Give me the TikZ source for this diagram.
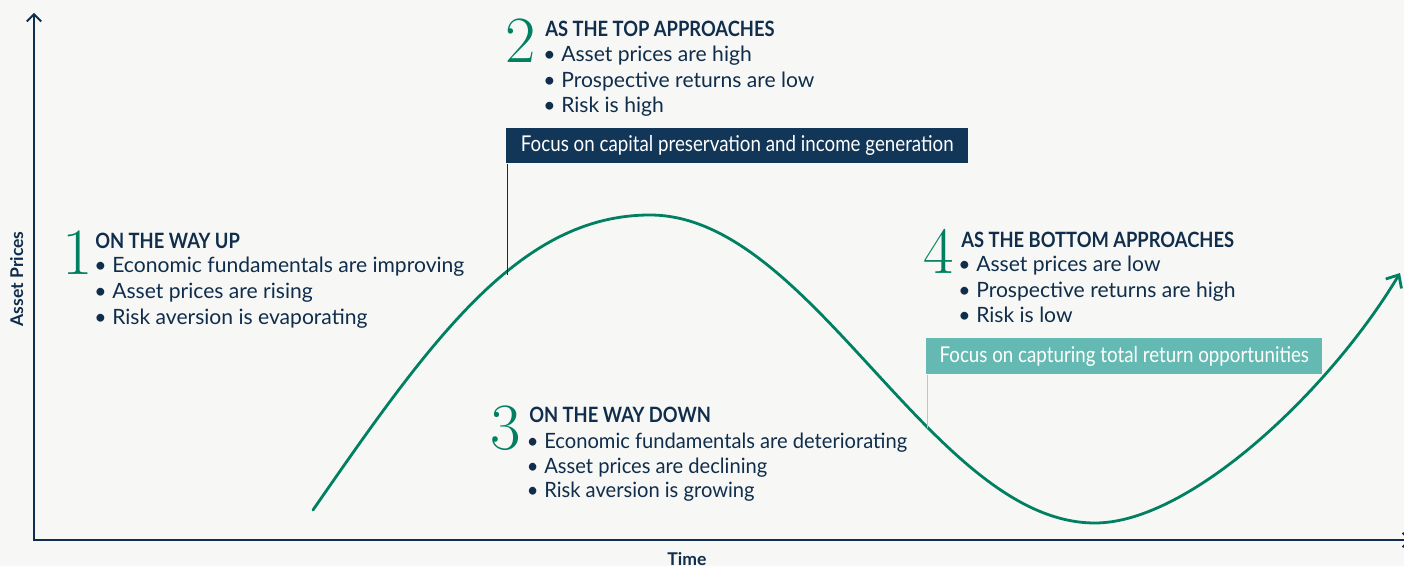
\documentclass[tikz,border=0pt]{standalone}
\usepackage{fontspec}
\setsansfont{Lato}
\renewcommand{\familydefault}{\sfdefault}
\newfontfamily\condfont[FakeStretch=0.86]{Lato}
\newfontfamily\headfont[FakeStretch=0.87]{Lato}
\newfontfamily\narrowfont[FakeStretch=0.955]{Lato}
\usetikzlibrary{arrows.meta}

\definecolor{bgpaper}{RGB}{247,247,245}
\definecolor{inknavy}{RGB}{16,46,76}
\definecolor{boxnavy}{RGB}{18,54,88}
\definecolor{cyclegreen}{RGB}{0,128,96}
\definecolor{boxteal}{RGB}{100,186,178}
\definecolor{lineteal}{RGB}{160,210,205}

\begin{document}
\begin{tikzpicture}
  [x=0.25mm,y=-0.25mm,
   every node/.style={inner sep=0pt,text=inknavy},
   numeral/.style={font=\rmfamily\fontsize{47}{47}\selectfont,text=cyclegreen,anchor=base west},
   heading/.style={font=\headfont\bfseries\fontsize{15}{18}\selectfont,anchor=base west},
   point/.style={font=\fontsize{15}{18}\selectfont,anchor=base west,
     execute at begin node={\llap{\textbullet\hspace{4pt}}}},
   narrowpoint/.style={point,font=\narrowfont\fontsize{15}{18}\selectfont},
   focus/.style={font=\condfont\fontsize{15.5}{18}\selectfont,text=white,anchor=north west},
   axislabel/.style={font=\bfseries\fontsize{12.5}{14}\selectfont,anchor=base},
   axis/.style={draw=inknavy,line width=0.45mm},
   cycle/.style={draw=cyclegreen,line width=0.7mm,line cap=round}]
  \fill[bgpaper] (0,0) rectangle (1404,566);
  \useasboundingbox (0,0) rectangle (1404,566);

  % axes
  \coordinate (origin) at (34,540);
  \coordinate (ytop) at (34,13);
  \coordinate (xend) at (1411,540);
  \draw[axis,{Straight Barb[length=1.8mm,width=3.6mm]}-{Straight Barb[length=1.8mm,width=3.6mm]}]
    (ytop) -- (origin) -- (xend);
  \node[axislabel,rotate=90] (ylab) at (23,279) {Asset Prices};
  \node[axislabel] (xlab) at (687,565) {Time};

  % the cycle
  \coordinate (start) at (313,510);
  \coordinate (peak) at (650,215);
  \coordinate (trough) at (1095,523);
  \coordinate (tip) at (1400,273);
  \draw[cycle,-{Straight Barb[length=2.6mm,width=4.6mm]}] (start)
    .. controls (432,338) and (520,215) .. (peak)
    .. controls (812,215) and (933,523) .. (trough)
    .. controls (1190,523) and (1330,390) .. (tip);
  \coordinate (upmeet) at (507,275);
  \coordinate (downmeet) at (927,428);

  % 1
  \node[numeral] (n1) at (62,275) {1};
  \node[heading] (h1) at (95,249) {ON THE WAY UP};
  \foreach \t [count=\i] in {Economic fundamentals are improving,
      Asset prices are rising,Risk aversion is evaporating}
    \node[point] (p1-\i) at (112,{273+26*(\i-1)}) {\t};

  % 2
  \node[numeral] (n2) at (505,63) {2};
  \node[heading] (h2) at (545,37) {AS THE TOP APPROACHES};
  \foreach \t [count=\i] in {Asset prices are high,
      Prospective returns are low,Risk is high}
    \node[point] (p2-\i) at (561,{62+25.5*(\i-1)}) {\t};
  \node[focus,fill=boxnavy,minimum width=115.5mm,minimum height=8.75mm] (f2) at (506,128)
    {Focus on capital preservation and income generation};
  \draw[inknavy,line width=0.25mm] (f2.south west) ++(1,0) -- (upmeet);

  % 3
  \node[numeral] (n3) at (490,450) {3};
  \node[heading] (h3) at (529,423) {ON THE WAY DOWN};
  \foreach \t [count=\i] in {Economic fundamentals are deteriorating,
      Asset prices are declining,Risk aversion is growing}
    \node[narrowpoint] (p3-\i) at (544,{448+25*(\i-1)}) {\t};

  % 4
  \node[numeral] (n4) at (923,274) {4};
  \node[heading] (h4) at (961,248) {AS THE BOTTOM APPROACHES};
  \foreach \t [count=\i] in {Asset prices are low,
      Prospective returns are high,Risk is low}
    \node[point] (p4-\i) at (976,{272+25.5*(\i-1)}) {\t};
  \node[focus,fill=boxteal,minimum width=99mm,minimum height=9mm] (f4) at (926,338)
    {Focus on capturing total return opportunities};
  \draw[lineteal,line width=0.25mm] (f4.south west) ++(1,0) -- (downmeet);
\end{tikzpicture}
\end{document}
